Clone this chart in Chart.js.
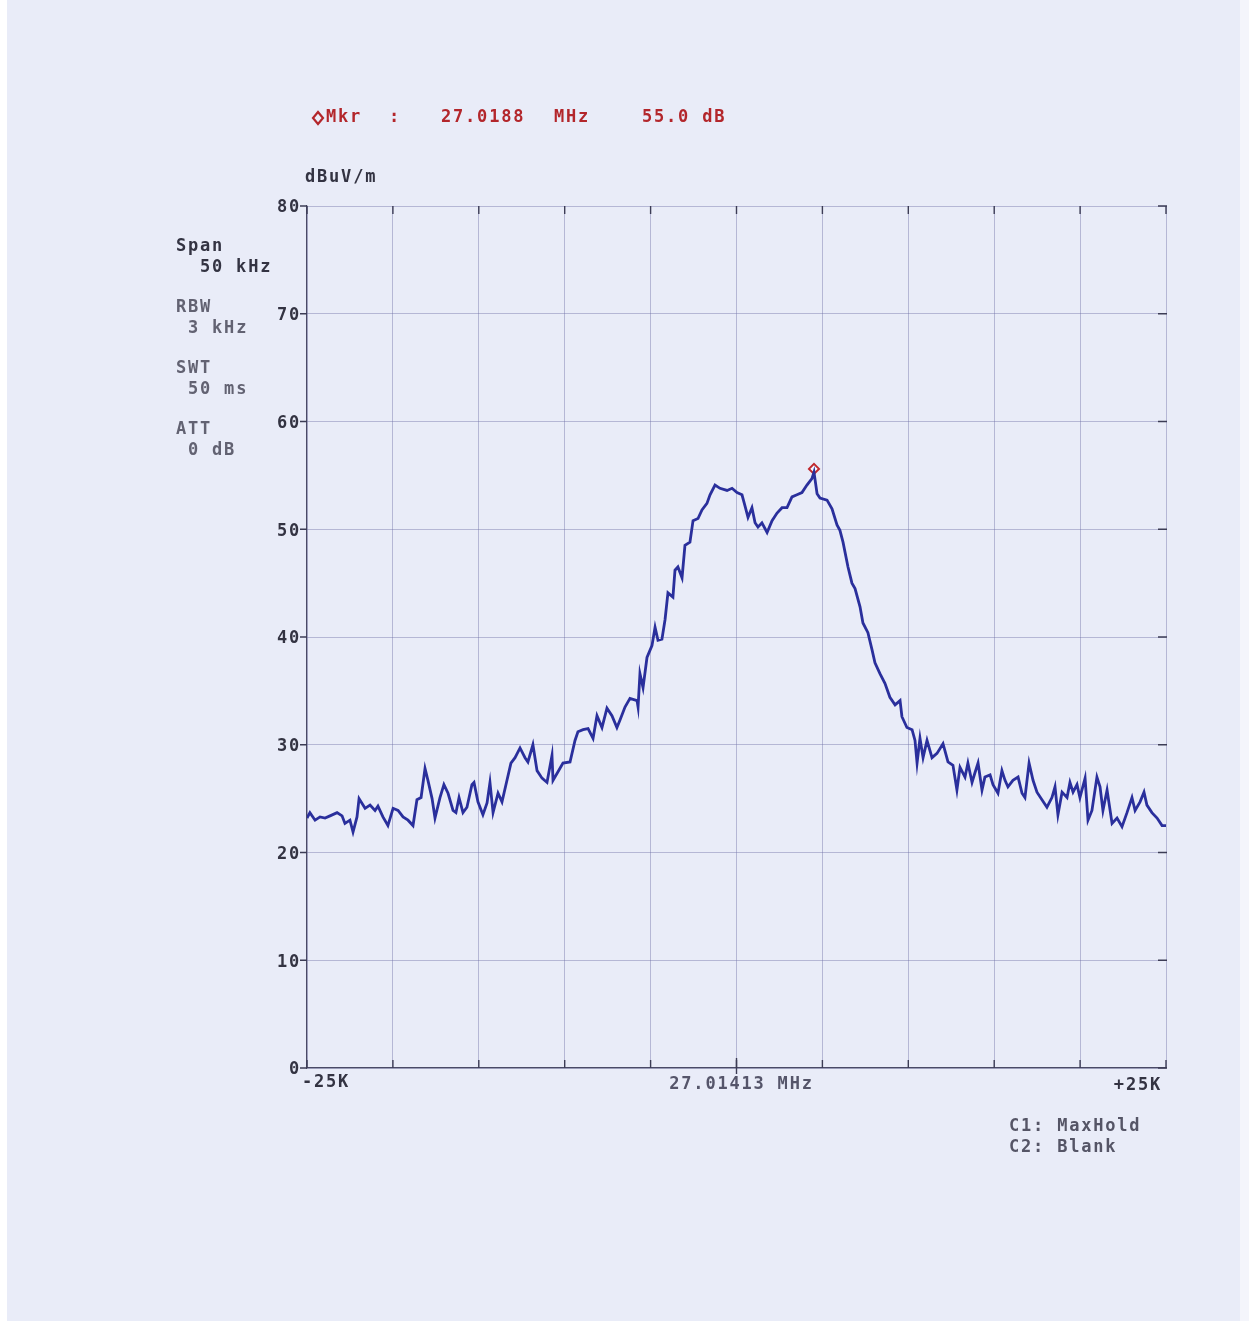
<!DOCTYPE html>
<html>
<head>
<meta charset="utf-8">
<script src="https://cdn.jsdelivr.net/npm/chart.js@4.4.1/dist/chart.umd.min.js"></script>
<style>
  html, body { margin: 0; padding: 0; }
  body { background: linear-gradient(to right, #ffffff 0px, #ffffff 7px, #e9ecf8 7px, #e9ecf8 1240px, #f4f5fb 1240px); }
  #wrap { width: 1249px; height: 1321px; }
</style>
</head>
<body>
<div id="wrap"><canvas id="specChart" width="1249" height="1321"></canvas></div>
<script>
// frequency offset from centre (kHz) and level (dBuV/m)
const freqOffsets = [
  -25.00, -24.83, -24.53, -24.24, -23.95, -23.66, -23.25, -22.96, -22.79, -22.50,
  -22.32, -22.09, -21.97, -21.62, -21.33, -21.04, -20.87, -20.58, -20.29, -19.99,
  -19.70, -19.41, -19.12, -18.83, -18.60, -18.36, -18.13, -17.96, -17.72, -17.55,
  -17.26, -17.03, -16.79, -16.50, -16.33, -16.15, -15.92, -15.69, -15.40, -15.28,
  -15.05, -14.76, -14.52, -14.35, -14.17, -13.88, -13.65, -13.36, -13.13, -12.89,
  -12.60, -12.31, -12.14, -11.85, -11.61, -11.32, -11.03, -10.74, -10.68, -10.39,
  -10.10, -9.69, -9.40, -9.23, -8.93, -8.64, -8.35, -8.12, -7.83, -7.54,
  -7.25, -6.96, -6.78, -6.49, -6.20, -5.79, -5.73, -5.62, -5.44, -5.21,
  -4.92, -4.74, -4.57, -4.34, -4.16, -3.99, -3.70, -3.58, -3.41, -3.17,
  -3.00, -2.71, -2.53, -2.24, -2.01, -1.72, -1.54, -1.25, -0.96, -0.55,
  -0.26, 0.03, 0.32, 0.49, 0.67, 0.90, 1.08, 1.25, 1.48, 1.78,
  2.07, 2.36, 2.65, 2.94, 3.23, 3.52, 3.81, 4.10, 4.39, 4.51,
  4.69, 4.86, 5.27, 5.56, 5.85, 6.02, 6.20, 6.49, 6.72, 6.90,
  7.19, 7.36, 7.65, 7.89, 8.06, 8.35, 8.64, 8.93, 9.23, 9.52,
  9.63, 9.92, 10.22, 10.39, 10.51, 10.68, 10.86, 11.09, 11.38, 11.67,
  12.02, 12.31, 12.60, 12.83, 13.01, 13.30, 13.47, 13.71, 13.88, 14.06,
  14.29, 14.46, 14.76, 14.93, 15.22, 15.45, 15.63, 15.80, 16.09, 16.39,
  16.62, 16.79, 17.03, 17.26, 17.49, 17.78, 18.07, 18.36, 18.54, 18.71,
  18.95, 19.24, 19.41, 19.59, 19.82, 19.99, 20.29, 20.46, 20.69, 20.98,
  21.16, 21.33, 21.57, 21.86, 22.15, 22.44, 22.73, 23.02, 23.20, 23.49,
  23.72, 23.89, 24.18, 24.48, 24.77, 25.00
];
const levels = [
  23.2, 23.7, 23.0, 23.3, 23.2, 23.4, 23.7, 23.4, 22.7, 23.0,
  21.9, 23.3, 25.0, 24.1, 24.4, 23.9, 24.3, 23.3, 22.5, 24.1,
  23.9, 23.3, 23.0, 22.5, 24.9, 25.1, 27.8, 26.7, 25.0, 23.2,
  25.1, 26.3, 25.5, 23.9, 23.7, 25.1, 23.7, 24.2, 26.3, 26.5,
  24.7, 23.5, 24.6, 26.5, 23.7, 25.5, 24.7, 26.7, 28.3, 28.8,
  29.7, 28.8, 28.4, 30.0, 27.6, 26.9, 26.5, 29.0, 26.7, 27.5,
  28.3, 28.4, 30.4, 31.2, 31.4, 31.5, 30.6, 32.7, 31.6, 33.4,
  32.7, 31.6, 32.3, 33.5, 34.3, 34.1, 33.5, 36.6, 35.3, 38.1,
  39.2, 40.9, 39.7, 39.8, 41.6, 44.1, 43.7, 46.2, 46.5, 45.5,
  48.5, 48.8, 50.8, 51.0, 51.8, 52.4, 53.2, 54.1, 53.8, 53.6,
  53.8, 53.4, 53.2, 52.2, 51.1, 52.0, 50.6, 50.2, 50.6, 49.7,
  50.8, 51.5, 52.0, 52.0, 53.0, 53.2, 53.4, 54.1, 54.7, 55.3,
  53.3, 52.9, 52.7, 51.9, 50.4, 49.9, 48.8, 46.5, 45.0, 44.5,
  42.8, 41.3, 40.4, 38.8, 37.6, 36.6, 35.7, 34.4, 33.7, 34.1,
  32.6, 31.6, 31.4, 30.4, 28.3, 30.6, 28.8, 30.4, 28.8, 29.2,
  30.1, 28.4, 28.1, 25.8, 27.9, 27.0, 28.3, 26.5, 27.4, 28.3,
  25.8, 27.0, 27.2, 26.3, 25.5, 27.6, 26.7, 26.1, 26.7, 27.0,
  25.5, 25.1, 28.3, 26.7, 25.6, 24.9, 24.2, 25.1, 26.1, 23.5,
  25.6, 25.1, 26.5, 25.6, 26.3, 25.1, 26.9, 23.0, 23.9, 27.0,
  26.1, 23.9, 25.8, 22.7, 23.2, 22.4, 23.7, 25.1, 23.9, 24.7,
  25.6, 24.4, 23.7, 23.2, 22.5, 22.5
];
const markerFreq = [4.51];
const markerLevel = [55.6];
const yTickValues = [0, 10, 20, 30, 40, 50, 60, 70, 80];
const xGridValues = [-25, -20, -15, -10, -5, 0, 5, 10, 15, 20, 25];
const leftInfo = [
  ["Span", "50 kHz"],
  ["RBW", "3 kHz"],
  ["SWT", "50 ms"],
  ["ATT", "0 dB"]
];
const traceInfo = ["C1: MaxHold", "C2: Blank"];

const points = freqOffsets.map((f, i) => ({ x: f, y: levels[i] }));
const markerPoints = markerFreq.map((f, i) => ({ x: f, y: markerLevel[i] }));

const FONT = 'bold 17px "DejaVu Sans Mono", monospace';

// draws the printer-style texts and the axis tick dashes
const annotations = {
  id: "annotations",
  afterDraw(chart) {
    const ctx = chart.ctx;
    const xs = chart.scales.x;
    const ys = chart.scales.y;
    const area = chart.chartArea;

    ctx.save();
    // tick dashes
    ctx.strokeStyle = "#3c3c55";
    ctx.lineWidth = 1.4;
    yTickValues.forEach((v) => {
      const py = ys.getPixelForValue(v);
      ctx.beginPath();
      ctx.moveTo(area.left - 7, py);
      ctx.lineTo(area.left, py);
      ctx.moveTo(area.right - 8, py);
      ctx.lineTo(area.right + 1, py);
      ctx.stroke();
    });
    xGridValues.forEach((v) => {
      const px = xs.getPixelForValue(v);
      ctx.beginPath();
      ctx.moveTo(px, area.bottom);
      ctx.lineTo(px, area.bottom - 8);
      ctx.moveTo(px, area.top);
      ctx.lineTo(px, area.top + 8);
      ctx.stroke();
    });
    const cx = xs.getPixelForValue(0);
    ctx.beginPath();
    ctx.moveTo(cx, area.bottom - 10);
    ctx.lineTo(cx, area.bottom + 6);
    ctx.stroke();

    ctx.font = FONT;
    ctx.letterSpacing = "1.8px";
    ctx.textBaseline = "middle";

    // header (marker readout)
    const red = "#b3262b";
    ctx.fillStyle = red;
    ctx.strokeStyle = red;
    ctx.lineWidth = 2.2;
    ctx.beginPath();
    ctx.moveTo(318, 112);
    ctx.lineTo(323, 118);
    ctx.lineTo(318, 124);
    ctx.lineTo(313, 118);
    ctx.closePath();
    ctx.stroke();
    ctx.textAlign = "left";
    ctx.fillText("Mkr", 326, 118);
    ctx.fillText(":", 389, 118);
    ctx.fillText("27.0188", 441, 118);
    ctx.fillText("MHz", 554, 118);
    ctx.fillText("55.0 dB", 642, 118);

    // unit
    ctx.fillStyle = "#333342";
    ctx.fillText("dBuV/m", 305, 178);

    // y labels
    ctx.textAlign = "right";
    yTickValues.forEach((v) => {
      ctx.fillText(String(v), area.left - 6, ys.getPixelForValue(v) + 2);
    });

    // settings block
    ctx.textAlign = "left";
    leftInfo.forEach((pair, i) => {
      const y0 = 247 + i * 61;
      ctx.fillStyle = i === 0 ? "#333342" : "#626272";
      ctx.fillText(pair[0], 176, y0);
      ctx.fillText(pair[1], i === 0 ? 200 : 188, y0 + 21);
    });

    // x labels
    ctx.fillStyle = "#333342";
    ctx.textAlign = "left";
    ctx.fillText("-25K", xs.getPixelForValue(-25) - 5, area.bottom + 15);
    ctx.textAlign = "center";
    ctx.fillStyle = "#55556a";
    ctx.fillText("27.01413 MHz", cx + 5, area.bottom + 17);
    ctx.textAlign = "right";
    ctx.fillStyle = "#333342";
    ctx.fillText("+25K", xs.getPixelForValue(25) - 4, area.bottom + 18);

    // trace info
    ctx.textAlign = "left";
    ctx.fillStyle = "#555566";
    traceInfo.forEach((t, i) => ctx.fillText(t, 1009, 1127 + i * 21));
    ctx.restore();
  }
};

const gridColor = "rgba(110, 110, 165, 0.42)";

new Chart(document.getElementById("specChart"), {
  type: "scatter",
  data: {
    datasets: [
      {
        label: "C1",
        data: points,
        showLine: true,
        borderColor: "#2a2f9c",
        borderWidth: 2.8,
        pointRadius: 0,
        tension: 0
      },
      {
        label: "Marker",
        data: markerPoints,
        pointStyle: "rectRot",
        pointRadius: 5,
        borderColor: "#c0272d",
        backgroundColor: "rgba(255,255,255,0.6)",
        borderWidth: 2
      }
    ]
  },
  options: {
    responsive: false,
    animation: false,
    layout: { padding: { left: 307, top: 206, right: 83, bottom: 253 } },
    plugins: { legend: { display: false }, tooltip: { enabled: false } },
    scales: {
      x: {
        type: "linear",
        min: -25,
        max: 25,
        ticks: { display: false, stepSize: 5 },
        grid: { color: gridColor, lineWidth: 1, drawTicks: false },
        border: { display: true, color: "#4a4a66", width: 1.2 },
        afterFit(scale) { scale.height = 0; }
      },
      y: {
        min: 0,
        max: 80,
        ticks: { display: false, stepSize: 10 },
        grid: { color: gridColor, lineWidth: 1, drawTicks: false },
        border: { display: true, color: "#4a4a66", width: 1.2 },
        afterFit(scale) { scale.width = 0; }
      }
    }
  },
  plugins: [annotations]
});
</script>
</body>
</html>
